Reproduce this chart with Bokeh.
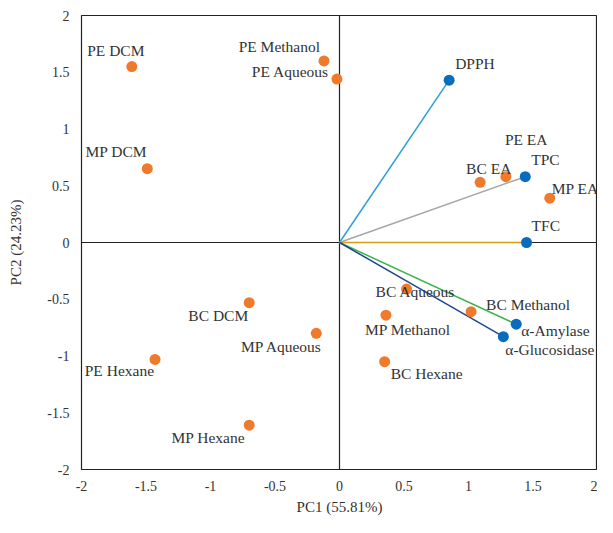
from bokeh.plotting import figure
from bokeh.models import ColumnDataSource, FixedTicker, Span
from bokeh.core.properties import value
from bokeh.embed import file_html
from bokeh.resources import INLINE

# Sample scores (orange)
sample_names = ["PE DCM", "PE Methanol", "PE Aqueous", "MP DCM", "BC EA", "PE EA", "MP EA",
                "BC Aqueous", "BC Methanol", "MP Methanol", "BC Hexane", "MP Aqueous",
                "BC DCM", "PE Hexane", "MP Hexane"]
sample_pc1 = [-1.61, -0.12, -0.02, -1.49, 1.09, 1.29, 1.63,
              0.52, 1.02, 0.36, 0.35, -0.18,
              -0.70, -1.43, -0.70]
sample_pc2 = [1.55, 1.60, 1.44, 0.65, 0.53, 0.58, 0.39,
              -0.41, -0.61, -0.64, -1.05, -0.80,
              -0.53, -1.03, -1.61]

# Variable loadings (blue)
var_names = ["DPPH", "TPC", "TFC", "α-Amylase", "α-Glucosidase"]
var_pc1 = [0.85, 1.44, 1.45, 1.37, 1.27]
var_pc2 = [1.43, 0.58, 0.0, -0.72, -0.83]
var_colors = ["#2a9fd8", "#a6a6a6", "#d69c1a", "#3cb44a", "#1f4791"]

tick_vals = [-2, -1.5, -1, -0.5, 0, 0.5, 1, 1.5, 2]
tick_labels = ["-2", "-1.5", "-1", "-0.5", "0", "0.5", "1", "1.5", "2"]

# label layout (pixel offsets and alignment)
sample_lab_align = ["center", "right", "right", "center", "left", "left", "left",
                    "left", "left", "left", "left", "right",
                    "right", "right", "right"]
sample_lab_dx = [-16, -4, -8, -31, -14, -1, 2, -31, 15, -21, 6, 6, -1, -1, -4]
sample_lab_dy = [-16, -14, -8, -17, -14, -37, -10, 2, -7, 14, 12, 13, 13, 11, 12]
var_lab_align = ["left", "left", "left", "left", "left"]
var_lab_dx = [6, 6, 5, 5, 2]
var_lab_dy = [-17, -17, -17, 6, 13]

FONT = "Liberation Serif"
TXT = "#333333"

p = figure(width=597, height=517, x_range=(-2, 2), y_range=(-2, 2),
           output_backend="svg", toolbar_location=None,
           min_border_left=81, min_border_right=0, min_border_top=15, min_border_bottom=46)
p.grid.visible = False
p.outline_line_color = "#222222"
p.outline_line_width = 1.2
p.background_fill_color = "white"
p.border_fill_color = "white"

for ax, lab in ((p.xaxis, "PC1 (55.81%)"), (p.yaxis, "PC2 (24.23%)")):
    ax.ticker = FixedTicker(ticks=tick_vals)
    ax.major_label_overrides = {v: l for v, l in zip(tick_vals, tick_labels)}
    ax.major_tick_line_color = None
    ax.minor_tick_line_color = None
    ax.axis_line_color = None
    ax.major_label_text_font = FONT
    ax.major_label_text_font_size = "14px"
    ax.major_label_text_color = TXT
    ax.axis_label = lab
    ax.axis_label_text_font = FONT
    ax.axis_label_text_font_size = "15px"
    ax.axis_label_text_font_style = "normal"
    ax.axis_label_text_color = TXT
p.xaxis.major_label_standoff = 5
p.xaxis.axis_label_standoff = 5
p.yaxis.major_label_standoff = 6
p.yaxis.axis_label_standoff = 20

p.add_layout(Span(location=0, dimension="height", line_color="#222222", line_width=1.2,
                  level="underlay"))
p.add_layout(Span(location=0, dimension="width", line_color="#222222", line_width=1.2,
                  level="underlay"))

vsrc = ColumnDataSource(dict(x=var_pc1, y=var_pc2, name=var_names, color=var_colors,
                             x0=[0] * len(var_pc1), y0=[0] * len(var_pc1),
                             align=var_lab_align, dx=var_lab_dx, dy=var_lab_dy))
ssrc = ColumnDataSource(dict(x=sample_pc1, y=sample_pc2, name=sample_names,
                             align=sample_lab_align, dx=sample_lab_dx, dy=sample_lab_dy))

p.segment(x0="x0", y0="y0", x1="x", y1="y", line_color="color", line_width=1.5, source=vsrc)
p.scatter("x", "y", size=11, fill_color="#f07a2c", line_color=None, source=ssrc)
p.scatter("x", "y", size=11, fill_color="#0a6cbf", line_color=None, source=vsrc)

for src in (ssrc, vsrc):
    p.text("x", "y", text="name", source=src, text_font=value(FONT), text_font_size="15.5px",
           text_color=TXT, text_align="align", text_baseline="middle",
           x_offset="dx", y_offset="dy")

open("out.html", "w").write(file_html(p, INLINE))
